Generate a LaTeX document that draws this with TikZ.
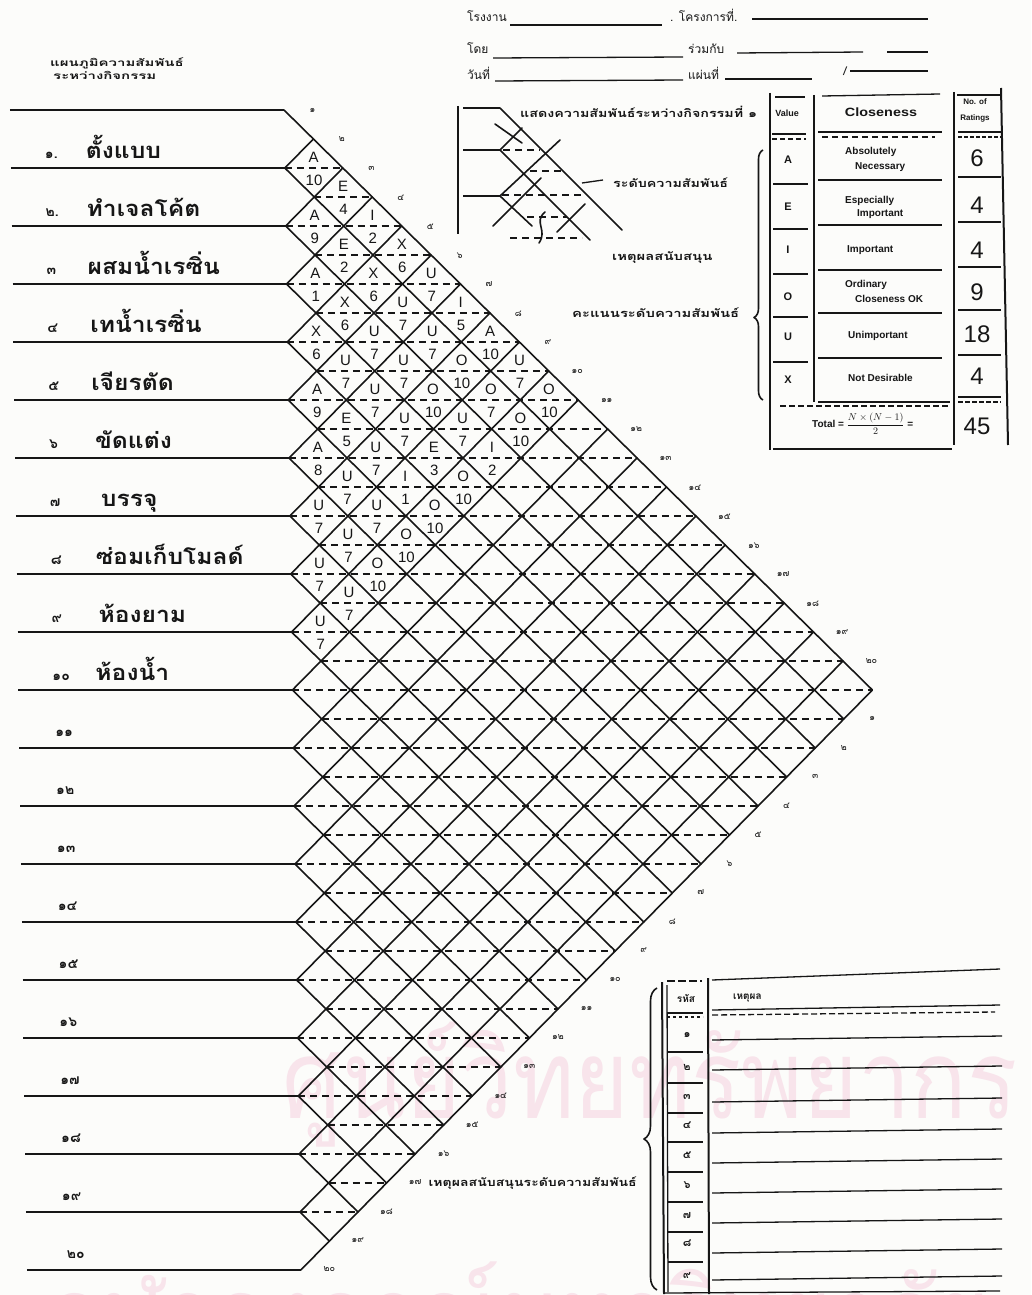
\documentclass[tikz,border=0pt]{standalone}
\usepackage{fontspec}
\usepackage{graphicx}
\setmainfont{Liberation Sans}
\newfontfamily\thaif[Script=Thai]{Loma}
\usetikzlibrary{decorations.pathreplacing}
\newcommand{\hstr}[2]{\scalebox{#1}[1]{#2}}
\newcommand{\fs}[1]{\fontsize{#1}{#1}\selectfont}
\definecolor{ink}{RGB}{22,22,22}
\definecolor{wmpink}{RGB}{248,228,235}
\definecolor{paper}{RGB}{252,252,250}
\begin{document}
\begin{tikzpicture}[x=1pt,y=-1pt,line join=round,
  lat/.style={ink,line width=1.6pt,line cap=round},
  dsh/.style={ink,line width=1.3pt,dash pattern=on 7pt off 5pt},
  rowline/.style={ink,line width=1.6pt},
  tl/.style={ink,line width=2pt},
  tn/.style={ink,line width=1.3pt},
  cellL/.style={ink,font=\fs{15},inner sep=0pt},
  rownum/.style={ink,font=\thaif\bfseries\fs{14},inner sep=0pt},
  rowtxt/.style={ink,font=\thaif\bfseries\fs{22},inner sep=0pt},
  tick/.style={ink,font=\thaif\fs{9},inner sep=0pt},
  small/.style={ink,font=\thaif\fs{12},inner sep=0pt},
  eng/.style={ink,font=\bfseries\fs{11},inner sep=0pt},
  hand/.style={ink,font=\fs{24},inner sep=0pt}]
\useasboundingbox (0,0) rectangle (1031,1295);
\fill[paper] (0,0) rectangle (1031,1295);

% watermark of the scanned page
\node[text=wmpink,font=\thaif\fs{110},inner sep=0pt] (wm1) at (650,1085) {\hstr{0.85}{ศูนย์วิทยทรัพยากร}};
\node[text=wmpink,font=\thaif\fs{100},inner sep=0pt,anchor=north] (wm2) at (520,1262) {\hstr{0.9}{จุฬาลงกรณ์มหาวิทยาลัย}};

% header left
\node[small,anchor=west] (h1) at (50,63) {\hstr{1.5}{\fs{10}\bfseries แผนภูมิความสัมพันธ์}};
\node[small,anchor=west] (h2) at (53,75) {\hstr{1.5}{\fs{10}\bfseries ระหว่างกิจกรรม}};

% header right (form)
\node[small,anchor=base west] (f1) at (467,22) {โรงงาน};
\draw[tn] (510,25) -- (662,25);
\node[small,anchor=base west] (f2) at (670,22) {. โครงการที่.};
\draw[tn] (752,19) -- (928,19);
\node[small,anchor=base west] (f3) at (467,54) {โดย};
\draw[tn] (493,58) -- (683,57);
\node[small,anchor=base west] (f4) at (688,54) {ร่วมกับ};
\draw[tn] (737,53) -- (863,52);
\draw[tn] (887,52) -- (928,52);
\node[small,anchor=base west] (f5) at (467,80) {วันที่};
\draw[tn] (495,81) -- (683,80);
\node[small,anchor=base west] (f6) at (688,80) {แผ่นที่};
\draw[tn] (725,79) -- (812,79);
\node[small,anchor=base] (f7) at (845,76) {/};
\draw[tn] (850,71) -- (928,71);

% ===== main chart (slightly sheared like the scan) =====
\def\xo{284}
\begin{scope}[xshift=-1.6pt,xslant=-0.0145]
  % row lines
  \foreach \i in {0,...,20} {
    \draw[rowline] (10,{110+58*\i}) -- (\xo,{110+58*\i});
  }
  % lattice
  \foreach \i in {0,...,19} {
    \draw[lat] (\xo,{110+58*\i}) -- ({\xo+29*(20-\i)},{110+58*\i+29*(20-\i)});
  }
  \foreach \i in {1,...,20} {
    \draw[lat] (\xo,{110+58*\i}) -- ({\xo+29*\i},{110+58*\i-29*\i});
  }
  % dashed middle lines
  \foreach \k in {2,...,38} {
    \pgfmathsetmacro\yy{110+29*\k}
    \pgfmathsetmacro\xs{isodd(\k) ? \xo+29 : \xo}
    \pgfmathsetmacro\xe{\xo+29*min(\k,40-\k)}
    \draw[dsh] (\xs,\yy) -- (\xe,\yy);
  }
  % cell values
  \foreach \i/\j/\L/\N in {1/2/A/10,1/3/E/4,1/4/I/2,1/5/X/6,1/6/U/7,1/7/I/5,1/8/A/10,1/9/U/7,1/10/O/10,
     2/3/A/9,2/4/E/2,2/5/X/6,2/6/U/7,2/7/U/7,2/8/O/10,2/9/O/7,2/10/O/10,
     3/4/A/1,3/5/X/6,3/6/U/7,3/7/U/7,3/8/O/10,3/9/U/7,3/10/I/2,
     4/5/X/6,4/6/U/7,4/7/U/7,4/8/U/7,4/9/E/3,4/10/O/10,
     5/6/A/9,5/7/E/5,5/8/U/7,5/9/I/1,5/10/O/10,
     6/7/A/8,6/8/U/7,6/9/U/7,6/10/O/10,
     7/8/U/7,7/9/U/7,7/10/O/10,
     8/9/U/7,8/10/U/7,
     9/10/U/7} {
    \node[cellL] (cl-\i-\j) at ({\xo+29*(\j-\i)},{110+29*(\i+\j-1)-11}) {\L};
    \node[cellL] (cn-\i-\j) at ({\xo+29*(\j-\i)},{110+29*(\i+\j-1)+12}) {\N};
  }
  % edge tick labels
  \foreach \k/\d in {1/๑,2/๒,3/๓,4/๔,5/๕,6/๖,7/๗,8/๘,9/๙,10/๑๐,11/๑๑,12/๑๒,13/๑๓,14/๑๔,15/๑๕,16/๑๖,17/๑๗,18/๑๘,19/๑๙,20/๒๐} {
    \node[tick] (tu\k) at ({\xo+29*(\k-0.5)+14},{110+29*(\k-0.5)-14}) {\d};
    \node[tick] (tb\k) at ({\xo+580-29*(\k-0.5)+14},{690+29*(\k-0.5)+14}) {\d};
  }
  % row labels
  \foreach \i/\x/\n/\t in {1/85/๑./ตั้งแบบ,2/85/๒./ทำเจลโค้ต,3/85/๓/ผสมน้ำเรซิ่น,4/87/๔/เทน้ำเรซิ่น,
      5/87/๕/เจียรตัด,6/90/๖/ขัดแต่ง,7/95/๗/บรรจุ,8/89/๘/ซ่อมเก็บโมลด์,9/91/๙/ห้องยาม,10/87/๑๐/ห้องน้ำ} {
    \node[rownum,anchor=base west] (rn\i) at (44,{100+58*\i}) {\n};
    \node[rowtxt,anchor=base west] (rt\i) at (\x,{100+58*\i}) {\hstr{1.12}{\t}};
  }
  \foreach \i/\n in {11/๑๑,12/๑๒,13/๑๓,14/๑๔,15/๑๕,16/๑๖,17/๑๗,18/๑๘,19/๑๙,20/๒๐} {
    \node[rownum,anchor=base west] (rn\i) at ({\i==20 ? 50 : 46},{98+58*\i}) {\n};
  }
\end{scope}

% ===== inset example =====
\draw[tl] (458,106) -- (458,234);
\draw[tn] (463,108) -- (500,108);
\draw[tn] (463,150) -- (500,150);
\draw[tn] (463,196) -- (500,196);
\draw[lat] (500,108) -- (622,230);
\draw[lat] (495,124) -- (522,143);
\draw[lat] (500,150) -- (590,240);
\draw[lat] (500,150) -- (522,128);
\draw[lat] (500,196) -- (560,140);
\draw[lat] (500,196) -- (532,226);
\draw[lat] (493,226) -- (541,178);
\draw[lat] (557,232) -- (585,204);
\draw[lat] (545,212) .. controls (533,222) and (548,230) .. (539,243);
\foreach \ya/\xa/\xb in {150/503/540,171/530/562,195/502/582,217/527/567,238/510/582} {
  \draw[dsh,line width=1.2pt] (\xa,\ya) -- (\xb,\ya);
}
\draw[tn] (582,183) -- (603,180);
\node[small,anchor=west] (ins1) at (520,112) {\hstr{1.3}{\fs{11}\bfseries แสดงความสัมพันธ์ระหว่างกิจกรรมที่ ๑}};
\node[small,anchor=west] (ins2) at (613,183) {\hstr{1.3}{\fs{11}\bfseries ระดับความสัมพันธ์}};
\node[small,anchor=west] (ins3) at (612,257) {\hstr{1.35}{\fs{11}\bfseries เหตุผลสนับสนุน}};
\node[small,anchor=west] (ins4) at (572,313) {\hstr{1.35}{\fs{11}\bfseries คะแนนระดับความสัมพันธ์}};

% ===== legend table =====
\draw[ink,line width=1.6pt,decorate,decoration={brace,amplitude=9pt,aspect=0.33}] (763,400) -- (763,150);
\draw[tl] (770,93) -- (770,450);
\draw[tl] (814,95) -- (814,402);
\draw[tl] (954,92) -- (954,445);
\draw[tl] (1001,88) -- (1008,445);
\draw[tl] (773,449) -- (952,449);
\draw[tn] (775,97) -- (805,97);
\draw[tn] (822,96) -- (940,94);
\draw[tn] (957,95) -- (1000,95);
\draw[tn] (772,134) -- (806,134);
\draw[tn,dash pattern=on 5pt off 3pt] (772,139) -- (806,139);
\draw[tn] (818,132) -- (942,132);
\draw[tn,dash pattern=on 6pt off 4pt] (822,137) -- (935,137);
\draw[tn] (958,132) -- (1001,132);
\draw[tn,dash pattern=on 4pt off 2pt] (958,137) -- (1001,137);
\foreach \yy in {180,225,270,313,358} {
  \draw[tn] (773,{\yy+4}) -- (808,{\yy+4});
  \draw[tn] (818,\yy) -- (942,\yy);
  \draw[tn] (958,{\yy-3}) -- (1001,{\yy-3});
}
\draw[tn] (818,402) -- (950,402);
\draw[tn,dash pattern=on 6pt off 3pt] (780,406) -- (950,406);
\draw[tn] (958,397) -- (1001,397);
\draw[tn,dash pattern=on 5pt off 2pt] (958,402) -- (1001,402);
\node[eng,font=\bfseries\fs{9}] (tv) at (787,113) {Value};
\node[eng] (tc) at (881,112) {\hstr{1.2}{\fs{12}\bfseries Closeness}};
\node[eng,font=\bfseries\fs{8}] (tr1) at (975,102) {No. of};
\node[eng,font=\bfseries\fs{8}] (tr2) at (975,118) {Ratings};
\foreach \yy/\L in {160/A,207/E,250/I,297/O,337/U,380/X} {
  \node[eng] (v\L) at (788,\yy) {\L};
}
\node[eng,anchor=west] (c1a) at (845,152) {\fs{10}\bfseries Absolutely};
\node[eng,anchor=west] (c1b) at (855,167) {\fs{10}\bfseries Necessary};
\node[eng,anchor=west] (c2a) at (845,201) {\fs{10}\bfseries Especially};
\node[eng,anchor=west] (c2b) at (857,214) {\fs{10}\bfseries Important};
\node[eng,anchor=west] (c3) at (847,250) {\fs{10}\bfseries Important};
\node[eng,anchor=west] (c4a) at (845,285) {\fs{10}\bfseries Ordinary};
\node[eng,anchor=west] (c4b) at (855,299) {\fs{10}\bfseries Closeness OK};
\node[eng,anchor=west] (c5) at (848,336) {\fs{10}\bfseries Unimportant};
\node[eng,anchor=west] (c6) at (848,378) {\fs{10}\bfseries Not Desirable};
\foreach \yy/\N/\nm in {158/6/a,205/4/e,250/4/i,292/9/o,334/18/u,376/4/x,426/45/t} {
  \node[hand] (n\nm) at (977,\yy) {\N};
}
\node[eng,anchor=west] (tot) at (812,424) {\fs{10}\bfseries Total = $\displaystyle\frac{N\times(N-1)}{2}$ =};

% ===== reasons table =====
\draw[ink,line width=1.6pt,decorate,decoration={brace,amplitude=13pt}] (657,1290) -- (657,988);
\node[small,anchor=east] (rs) at (637,1183) {\hstr{1.28}{\fs{11}\bfseries เหตุผลสนับสนุนระดับความสัมพันธ์}};
\draw[tl] (662,982) -- (664,1294);
\draw[tn] (667,985) -- (668,1292);
\draw[tl] (708,978) -- (709,1294);
\draw[tn,dash pattern=on 8pt off 3pt] (667,981) -- (702,981);
\draw[tn] (712,980) -- (1000,969);
\node[small,anchor=center] (rh1) at (686,998) {\fs{10}\bfseries รหัส};
\node[small,anchor=west] (rh2) at (733,998) {\fs{10}\bfseries เหตุผล};
\draw[tn] (667,1013) -- (703,1013);
\draw[tn,dash pattern=on 3pt off 3pt] (667,1017) -- (703,1017);
\draw[tn] (712,1010) -- (1000,1005);
\draw[tn,dash pattern=on 6pt off 3pt] (712,1015) -- (995,1012);
\foreach \yy in {1052,1083,1113,1142,1172,1202,1232,1262} {
  \draw[tn] (668,\yy) -- (703,\yy);
}
\draw[tn] (664,1293) -- (1000,1291);
\foreach \yy in {1040,1070,1102,1133,1163,1193,1223,1253,1280} {
  \draw[tn] (712,\yy) -- (1002,{\yy-4});
}
\foreach \yy/\d/\k in {1035/๑/1,1067/๒/2,1097/๓/3,1125/๔/4,1155/๕/5,1185/๖/6,1215/๗/7,1243/๘/8,1275/๙/9} {
  \node[small,font=\thaif\bfseries\fs{11}] (rc\k) at (687,\yy) {\d};
}
\end{tikzpicture}
\end{document}
